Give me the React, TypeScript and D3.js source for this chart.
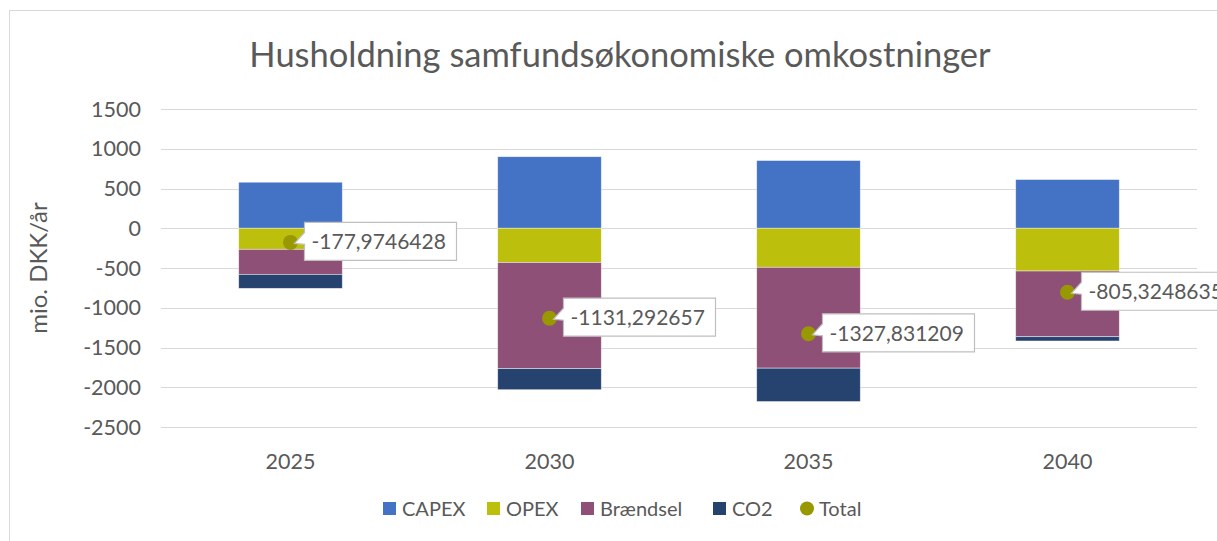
import React from "react";
import * as d3 from "d3";

const years = ["2025", "2030", "2035", "2040"];
const capex = [579, 900, 852, 613];
const opex = [-265, -430, -491, -538];
const braendsel = [-315, -1335, -1269, -826];
const co2 = [-176, -266, -420, -54];
const totals = [-177.9746428, -1131.292657, -1327.831209, -805.3248635];
const totalLabels = ["-177,9746428", "-1131,292657", "-1327,831209", "-805,3248635"];
const yTicks = [1500, 1000, 500, 0, -500, -1000, -1500, -2000, -2500];

const seriesNames = ["CAPEX", "OPEX", "Brændsel", "CO2"];
const seriesColors = ["#4472c4", "#bcbf0b", "#8f5077", "#264370"];
const totalColor = "#989800";

const W = 1217;
const H = 541;
const font = "Lato, 'Open Sans', sans-serif";
const textColor = "#595959";

export default function App() {
  const rows = years.map((y, i) => ({
    year: y,
    CAPEX: capex[i],
    OPEX: opex[i],
    "Brændsel": braendsel[i],
    CO2: co2[i],
  }));
  const stacked = d3
    .stack<any>()
    .keys(seriesNames)
    .offset(d3.stackOffsetDiverging)(rows);

  const x = d3.scaleBand().domain(years).range([161, 1197]).paddingInner(0.6).paddingOuter(0.3);
  const y = d3.scaleLinear().domain([-2500, 1500]).range([427, 109]);

  const legendItems = [
    { name: "CAPEX", x: 383, color: seriesColors[0], kind: "rect" },
    { name: "OPEX", x: 487, color: seriesColors[1], kind: "rect" },
    { name: "Brændsel", x: 581, color: seriesColors[2], kind: "rect" },
    { name: "CO2", x: 713, color: seriesColors[3], kind: "rect" },
    { name: "Total", x: 800, color: totalColor, kind: "circle" },
  ];

  return (
    <svg
      width={W}
      height={H}
      style={{ position: "absolute", left: 0, top: 0, background: "#fff" }}
      fontFamily={font}
    >
      <rect x={9.5} y={10.5} width={W} height={H} fill="#fff" stroke="#d9d9d9" />
      <text x={620} y={67} textAnchor="middle" fontSize={34.5} fill={textColor}>
        Husholdning samfundsøkonomiske omkostninger
      </text>
      {yTicks.map((t) => (
        <g key={t}>
          <line x1={161} x2={1197} y1={Math.round(y(t)) + 0.5} y2={Math.round(y(t)) + 0.5} stroke="#d9d9d9" strokeWidth={1} />
          <text x={141} y={y(t) + 7.5} textAnchor="end" fontSize={21.5} fill={textColor}>
            {t}
          </text>
        </g>
      ))}
      <text
        transform={`translate(47, ${y(-500)}) rotate(-90)`}
        textAnchor="middle"
        fontSize={24}
        fill={textColor}
      >
        mio. DKK/år
      </text>
      {stacked.map((s, si) => (
        <g key={s.key} fill={seriesColors[si]}>
          {s.map((d, i) => (
            <rect
              key={i}
              x={x(years[i])}
              width={x.bandwidth()}
              y={y(Math.max(d[0], d[1]))}
              height={Math.abs(y(d[0]) - y(d[1]))}
              stroke="#ffffff"
              strokeOpacity={0.6}
              strokeWidth={0.75}
            />
          ))}
        </g>
      ))}
      {years.map((yr) => (
        <text key={yr} x={x(yr)! + x.bandwidth() / 2} y={469} textAnchor="middle" fontSize={21.5} fill={textColor}>
          {yr}
        </text>
      ))}
      {years.map((yr, i) => {
        const px = x(yr)! + x.bandwidth() / 2;
        const py = y(totals[i]);
        const bx = px + 14;
        const by = py - 20;
        const bw = 152;
        const bh = 38;
        const path = `M${bx},${by} H${bx + bw} V${by + bh} H${bx} V${by + 22} L${px + 4},${py + 1} L${bx},${by + 10} Z`;
        return (
          <g key={yr}>
            <circle cx={px} cy={py} r={7.5} fill={totalColor} />
            <path d={path} fill="#fff" stroke="#bfbfbf" strokeWidth={1.2} />
            <text x={bx + 7} y={by + 27} fontSize={21} fill={textColor}>
              {totalLabels[i]}
            </text>
          </g>
        );
      })}
      {legendItems.map((it) => (
        <g key={it.name}>
          {it.kind === "rect" ? (
            <rect x={it.x} y={502} width={13} height={13} fill={it.color} />
          ) : (
            <circle cx={it.x + 7} cy={508.5} r={7} fill={it.color} />
          )}
          <text x={it.x + 19} y={516} fontSize={20} fill={textColor}>
            {it.name}
          </text>
        </g>
      ))}
    </svg>
  );
}
